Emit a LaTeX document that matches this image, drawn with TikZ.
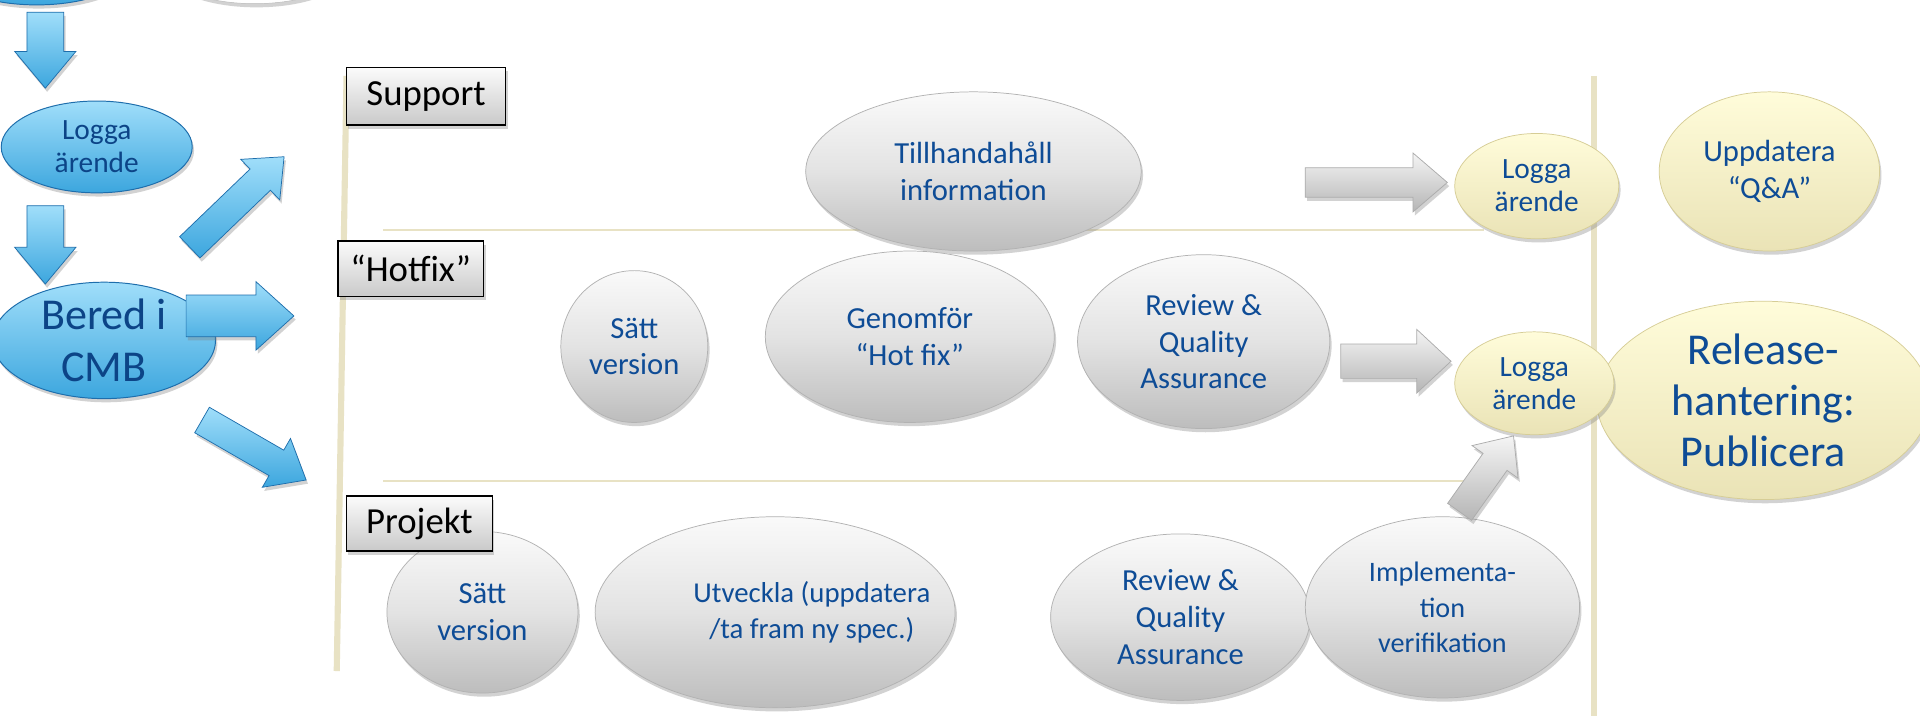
\documentclass[tikz,border=0pt]{standalone}
\usepackage{fontspec}
\setmainfont{Carlito}
\usetikzlibrary{shapes.geometric,shadows,calc}
\definecolor{txtblue}{RGB}{14,76,150}
\definecolor{tanline}{RGB}{232,226,196}
\definecolor{blueA}{RGB}{160,222,250}
\definecolor{blueB}{RGB}{60,166,222}
\definecolor{blueE}{RGB}{30,110,172}
\definecolor{yelA}{RGB}{255,252,218}
\definecolor{yelB}{RGB}{234,227,182}
\definecolor{yelE}{RGB}{214,205,150}
\newcommand\blockarrow[6]{%
  \coordinate (bH) at ($(#3)!#6!(#2)$);
  \path[#1] ($(#2)!#4!90:(#3)$) -- ($(bH)!#4!90:(#3)$) -- ($(bH)!#5!90:(#3)$) -- (#3)
    -- ($(bH)!#5!-90:(#3)$) -- ($(bH)!#4!-90:(#3)$) -- ($(#2)!#4!-90:(#3)$) -- cycle;}
\tikzset{
  shad/.style={drop shadow={opacity=0.35,shadow xshift=1.5pt,shadow yshift=-3pt}},
  grayell/.style={ellipse, inner sep=0pt, align=center, text=txtblue,
    top color=gray!4, bottom color=gray!52, middle color=gray!22, draw=gray!60, line width=0.6pt, shad},
  yellell/.style={ellipse, inner sep=0pt, align=center, text=txtblue,
    top color=yelA, bottom color=yelB, draw=yelE, line width=0.6pt, shad},
  blueell/.style={ellipse, inner sep=0pt, align=center, text=txtblue!90!black,
    top color=blueA, bottom color=blueB, draw=blueE, line width=0.8pt, shad},
  lanebox/.style={rectangle, draw=black, line width=1.2pt, inner sep=0pt,
    top color=gray!3, bottom color=gray!42, shad, font=\fontsize{30}{34}\selectfont},
  bluearrow/.style={top color=blueA, bottom color=blueB, draw=blueE, line width=0.6pt, shad},
  grayarrow/.style={top color=gray!8, bottom color=gray!58, draw=gray!65, line width=0.6pt, shad},
  tanthick/.style={draw=tanline, line width=5pt},
  tanthin/.style={draw=tanline, line width=1.5pt},
  fa/.style={font=\fontsize{24}{27}\selectfont},
  fb/.style={font=\fontsize{25}{30}\selectfont},
  fc/.style={font=\fontsize{36}{42}\selectfont},
}
\begin{document}
\begin{tikzpicture}[x=1pt,y=-1pt]
\useasboundingbox (0,0) rectangle (1568,584);
\clip (0,0) rectangle (1568,584);
\fill[white] (0,0) rectangle (1568,584);

% lane lines
\coordinate (lvt) at (283,62); \coordinate (lvb) at (275,548);
\coordinate (rvt) at (1302,62); \coordinate (rvb) at (1302,590);
\coordinate (h1a) at (313,188); \coordinate (h1b) at (1212,188);
\coordinate (h2a) at (313,393); \coordinate (h2b) at (1212,393);
\draw[tanthick] (lvt) -- (lvb);
\draw[tanthick] (rvt) -- (rvb);
\draw[tanthin] (h1a) -- (h1b);
\draw[tanthin] (h2a) -- (h2b);

% partial ellipses at the top
\node[blueell, minimum width=160, minimum height=68] (topb) at (30,-30) {};
\node[ellipse, fill=white, draw=gray!55, shad, minimum width=150, minimum height=60] (topg) at (208,-27) {};

% left column
\node[blueell, fa, minimum width=156, minimum height=75] (logga0) at (79,120) {Logga\\ärende};
\node[blueell, fc, minimum width=182, minimum height=88] (bered) at (85,278) {Bered i\\CMB};

\coordinate (a1s) at (37,10);  \coordinate (a1e) at (37,72);
\coordinate (a2s) at (37,168); \coordinate (a2e) at (37,232);
\coordinate (a3s) at (155,202); \coordinate (a3e) at (232,128);
\coordinate (a4s) at (152,258); \coordinate (a4e) at (240,258);
\coordinate (a5s) at (165,343); \coordinate (a5e) at (250,392);
\blockarrow{bluearrow}{a1s}{a1e}{15pt}{25pt}{30pt}
\blockarrow{bluearrow}{a2s}{a2e}{15pt}{25pt}{30pt}
\blockarrow{bluearrow}{a3s}{a3e}{12pt}{23pt}{27pt}
\blockarrow{bluearrow}{a4s}{a4e}{17pt}{28pt}{31pt}
\blockarrow{bluearrow}{a5s}{a5e}{12pt}{23pt}{28pt}

% right side yellow
\node[yellell, fc, minimum width=272, minimum height=162] (release) at (1440,327) {Release-\\hantering:\\Publicera};
\node[yellell, fa, minimum width=134, minimum height=86] (logga1) at (1255,152) {Logga\\ärende};
\node[yellell, fb, minimum width=180, minimum height=130] (qa) at (1445,140) {Uppdatera\\“Q\&A”};
\node[yellell, fa, minimum width=130, minimum height=84] (logga2) at (1253,313) {Logga\\ärende};

% support lane
\node[grayell, fb, minimum width=274, minimum height=130] (info) at (795,140) {Tillhandahåll\\information};

% hotfix lane
\node[grayell, fb, minimum width=120, minimum height=124] (hv) at (518,283) {Sätt\\version};
\node[grayell, fb, minimum width=236, minimum height=140] (hg) at (743,275) {Genomför\\“Hot fix”};
\node[grayell, fb, minimum width=206, minimum height=142] (hr) at (983,279) {Review \&\\Quality\\Assurance};

% projekt lane
\node[grayell, fb, minimum width=156, minimum height=132] (pv) at (394,500) {Sätt\\version};
\node[grayell, minimum width=294, minimum height=156] (pu) at (633,500) {};
\node[text=txtblue, align=center, font=\fontsize{23.5}{30}\selectfont] (putext) at (663,500) {Utveckla (uppdatera\\/ta fram ny spec.)};
\node[grayell, fb, minimum width=212, minimum height=136] (pr) at (964,504) {Review \&\\Quality\\Assurance};
\node[grayell, font=\fontsize{23}{29}\selectfont, minimum width=224, minimum height=148] (pi) at (1178,496) {Implementa-\\tion\\verifikation};

% gray arrows
\coordinate (g1s) at (1066,149); \coordinate (g1e) at (1182,149);
\coordinate (g2s) at (1095,295); \coordinate (g2e) at (1185,295);
\coordinate (g3s) at (1192,418); \coordinate (g3e) at (1236,356);
\blockarrow{grayarrow}{g1s}{g1e}{12pt}{24pt}{28pt}
\blockarrow{grayarrow}{g2s}{g2e}{14pt}{26pt}{28pt}
\blockarrow{grayarrow}{g3s}{g3e}{12pt}{23pt}{26pt}

% lane labels
\node[lanebox, minimum width=130, minimum height=47] (support) at (348,78.5) {Support};
\node[lanebox, minimum width=119, minimum height=45] (hotfix) at (335.5,219.5) {“Hotfix”};
\node[lanebox, minimum width=119, minimum height=45] (projekt) at (342.5,427.5) {Projekt};
\end{tikzpicture}
\end{document}
